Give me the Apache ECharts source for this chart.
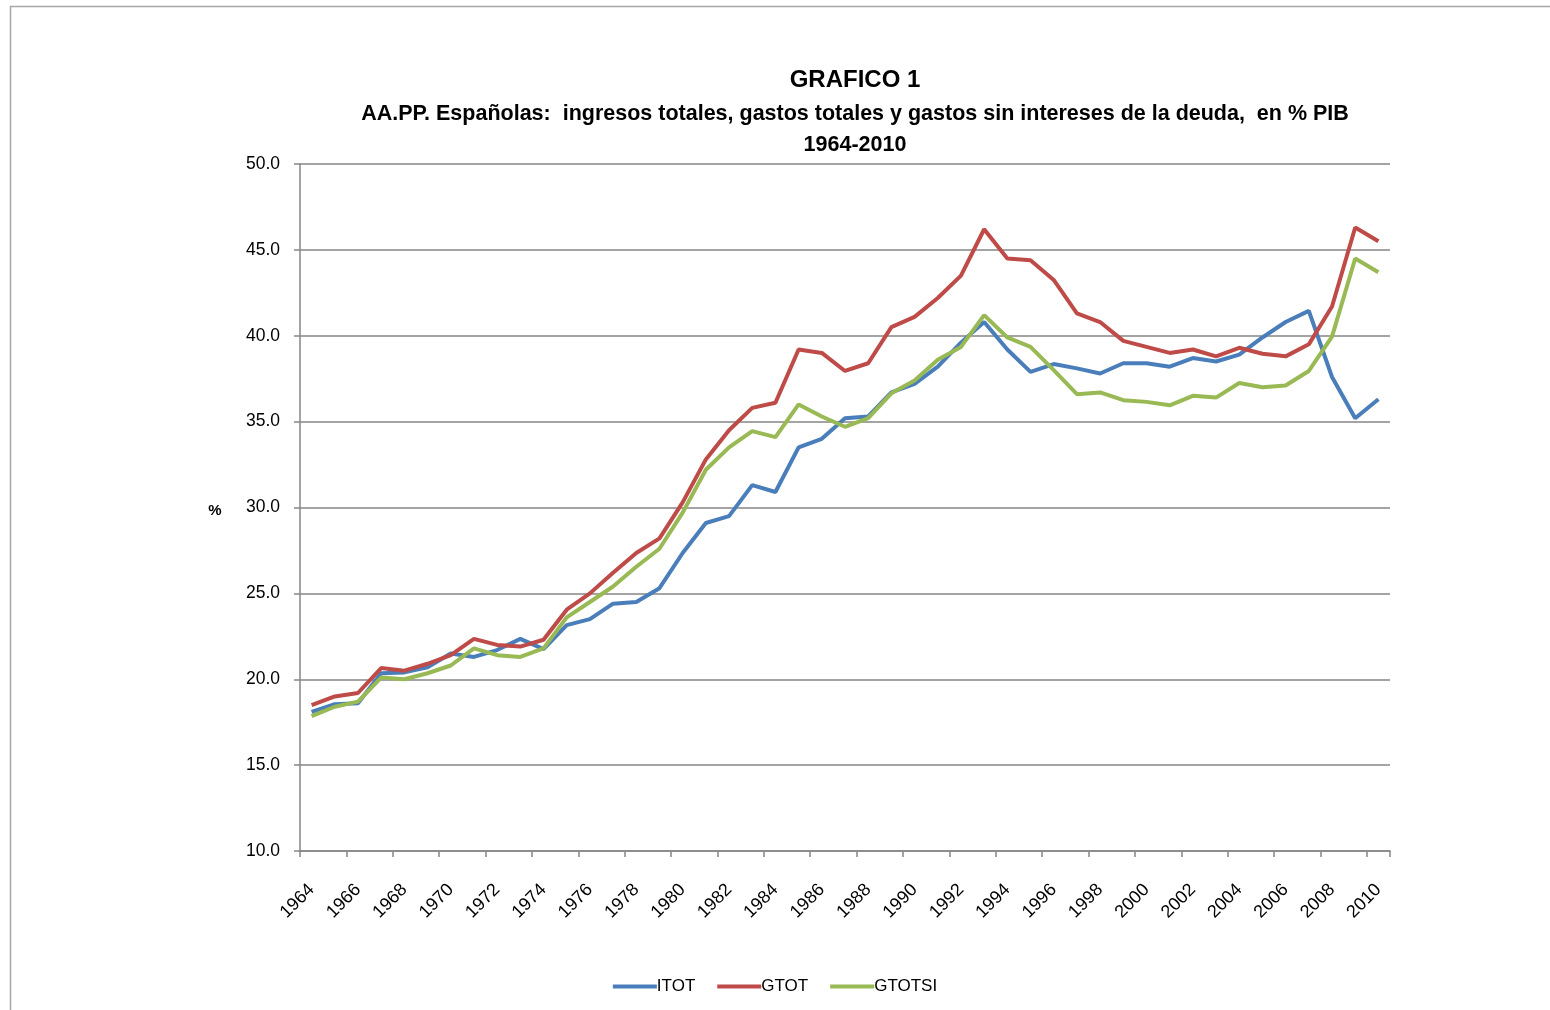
<!DOCTYPE html>
<html>
<head>
<meta charset="utf-8">
<script src="https://cdn.jsdelivr.net/npm/echarts@6/dist/echarts.min.js"></script>
<style>
html,body{margin:0;padding:0;background:#fff;}
#chart{width:1550px;height:1010px;}
</style>
</head>
<body>
<div id="chart"></div>
<script>
const years = ['1964','1965','1966','1967','1968','1969','1970','1971','1972','1973','1974','1975','1976','1977','1978','1979','1980','1981','1982','1983','1984','1985','1986','1987','1988','1989','1990','1991','1992','1993','1994','1995','1996','1997','1998','1999','2000','2001','2002','2003','2004','2005','2006','2007','2008','2009','2010'];
const ITOT = [18.1,18.55,18.6,20.35,20.4,20.7,21.5,21.3,21.7,22.35,21.75,23.15,23.5,24.4,24.5,25.3,27.35,29.1,29.5,31.3,30.9,33.5,34.0,35.2,35.3,36.7,37.2,38.2,39.6,40.8,39.2,37.9,38.35,38.1,37.8,38.4,38.4,38.2,38.7,38.5,38.9,39.9,40.8,41.45,37.6,35.2,36.3];
const GTOT = [18.5,19.0,19.2,20.65,20.5,20.9,21.4,22.35,22.0,21.9,22.3,24.05,25.0,26.2,27.35,28.2,30.3,32.8,34.5,35.8,36.1,39.2,39.0,37.95,38.4,40.5,41.1,42.2,43.5,46.2,44.5,44.4,43.25,41.3,40.8,39.7,39.35,39.0,39.2,38.8,39.3,38.95,38.8,39.5,41.7,46.3,45.5];
const GTOTSI = [17.85,18.4,18.7,20.1,20.0,20.35,20.8,21.8,21.4,21.3,21.8,23.6,24.5,25.4,26.55,27.6,29.7,32.2,33.5,34.45,34.1,36.0,35.3,34.7,35.2,36.65,37.4,38.6,39.35,41.2,39.9,39.35,38.0,36.6,36.7,36.25,36.15,35.95,36.5,36.4,37.25,37.0,37.1,37.95,39.95,44.5,43.7];
const seriesNames = ['ITOT','GTOT','GTOTSI'];
const colors = ['#4A7EBB','#BE4B48','#98B954'];
const titleText = 'GRAFICO 1';
const subText1 = 'AA.PP. Españolas:  ingresos totales, gastos totales y gastos sin intereses de la deuda,  en % PIB';
const subText2 = '1964-2010';

const chart = echarts.init(document.getElementById('chart'), null, {renderer:'canvas'});
const F = "'Liberation Sans', Arial, sans-serif";
const mk = (name, data, color) => ({
  name, type:'line', data, symbol:'none', smooth:false,
  lineStyle:{color, width:4}, itemStyle:{color}, animation:false
});
chart.setOption({
  animation:false,
  backgroundColor:'#fff',
  graphic:[
    {type:'rect', shape:{x:10.5,y:6.5,width:1560,height:1020}, style:{fill:'none', stroke:'#a6a6a6', lineWidth:1.5}},
    {type:'text', x:855, y:80, style:{text:titleText, fill:'#000', font:"bold 24px "+F, textAlign:'center', textVerticalAlign:'middle'}},
    {type:'text', x:855, y:114, style:{text:subText1, fill:'#000', font:"bold 21.5px "+F, textAlign:'center', textVerticalAlign:'middle'}},
    {type:'text', x:855, y:145, style:{text:subText2, fill:'#000', font:"bold 21.5px "+F, textAlign:'center', textVerticalAlign:'middle'}},
    {type:'text', x:215, y:511, style:{text:'%', fill:'#000', font:"bold 15px "+F, textAlign:'center', textVerticalAlign:'middle'}}
  ],
  legend:{
    data:seriesNames, bottom:10, left:'center', itemWidth:44, itemHeight:4, itemGap:22,
    icon:'rect', textStyle:{color:'#000', fontSize:17, fontFamily:F, padding:[0,0,0,-5]}
  },
  grid:{left:300, right:160, top:164, bottom:159, containLabel:false},
  xAxis:{
    type:'category', data:years, boundaryGap:true,
    axisLine:{lineStyle:{color:'#868686', width:1.5}},
    axisTick:{show:true, interval:1, length:6, lineStyle:{color:'#868686', width:1.5}},
    axisLabel:{interval:1, rotate:45, margin:36, color:'#000', fontSize:18, fontFamily:F}
  },
  yAxis:{
    type:'value', min:10, max:50, interval:5,
    axisLine:{show:true, lineStyle:{color:'#868686', width:1.5}},
    axisTick:{show:true, length:6, lineStyle:{color:'#868686', width:1.5}},
    splitLine:{lineStyle:{color:'#868686', width:1.5}},
    axisLabel:{color:'#000', fontSize:17.5, fontFamily:F, margin:20, formatter:v=>v.toFixed(1)}
  },
  series:[mk(seriesNames[0],ITOT,colors[0]), mk(seriesNames[1],GTOT,colors[1]), mk(seriesNames[2],GTOTSI,colors[2])]
});
</script>
</body>
</html>
